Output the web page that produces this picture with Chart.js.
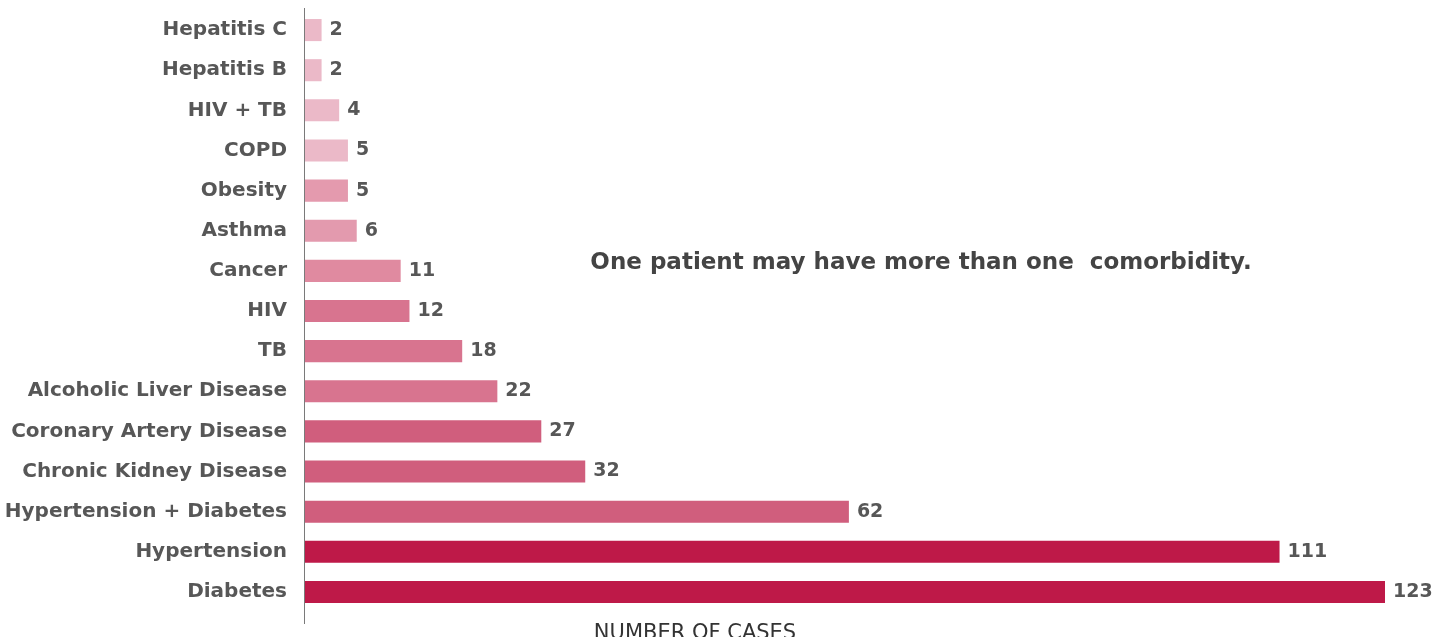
<!DOCTYPE html>
<html>
<head>
<meta charset="utf-8">
<style>
  * { margin: 0; padding: 0; box-sizing: border-box; }
  body { background: #ffffff; width: 1445px; height: 637px; overflow: hidden; }
  #chart { display: block; }
</style>
</head>
<body>
<canvas id="chart" width="1445" height="637"></canvas>
<script src="https://cdn.jsdelivr.net/npm/chart.js/dist/chart.umd.min.js"></script>
<script>
// data
const categories = [
  'Hepatitis C', 'Hepatitis B', 'HIV + TB', 'COPD', 'Obesity', 'Asthma',
  'Cancer', 'HIV', 'TB', 'Alcoholic Liver Disease', 'Coronary Artery Disease',
  'Chronic Kidney Disease', 'Hypertension + Diabetes', 'Hypertension', 'Diabetes'
];
const cases = [2, 2, 4, 5, 5, 6, 11, 12, 18, 22, 27, 32, 62, 111, 123];
const axisTitle = 'NUMBER OF CASES';
const note = 'One patient may have more than one  comorbidity.';

// colours, lightest at the top
const barColors = [
  '#ebb9c8', '#ebb9c8', '#ebb9c8', '#ebb9c8', '#e49aae', '#e39aae',
  '#e08aa0', '#d8748f', '#d8748f', '#d8748f', '#d05e7d',
  '#d05e7d', '#d05e7d', '#be1948', '#be1948'
];

const FONT = "'DejaVu Sans', sans-serif";
const TEXT = '#575757';

// value labels, axis line, axis title and note
const extras = {
  id: 'extras',
  afterDatasetsDraw(chart) {
    const ctx = chart.ctx;
    const meta = chart.getDatasetMeta(0);
    ctx.save();
    ctx.font = 'bold 19px ' + FONT;
    ctx.fillStyle = TEXT;
    ctx.textAlign = 'left';
    ctx.textBaseline = 'middle';
    meta.data.forEach((bar, i) => {
      ctx.fillText(String(cases[i]), bar.x + 8, bar.y);
    });
    ctx.restore();
  },
  afterDraw(chart) {
    const ctx = chart.ctx;
    const a = chart.chartArea;
    ctx.save();
    ctx.strokeStyle = '#7a7a7a';
    ctx.lineWidth = 1;
    ctx.beginPath();
    ctx.moveTo(a.left + 0.5, a.top - 2);
    ctx.lineTo(a.left + 0.5, a.bottom + 12);
    ctx.stroke();

    ctx.fillStyle = '#333333';
    ctx.font = '21px ' + FONT;
    ctx.textAlign = 'center';
    ctx.textBaseline = 'alphabetic';
    ctx.fillText(axisTitle, 695, 639);

    ctx.fillStyle = '#444444';
    ctx.font = 'bold 23px ' + FONT;
    ctx.textBaseline = 'middle';
    ctx.fillText(note, 921, 263);
    ctx.restore();
  }
};

new Chart(document.getElementById('chart'), {
  type: 'bar',
  data: {
    labels: categories,
    datasets: [{
      data: cases,
      backgroundColor: barColors,
      borderWidth: 0,
      categoryPercentage: 0.55,
      barPercentage: 1
    }]
  },
  options: {
    indexAxis: 'y',
    responsive: false,
    animation: false,
    devicePixelRatio: 1,
    layout: { padding: { top: 10, bottom: 25, right: 60, left: 0 } },
    plugins: {
      legend: { display: false },
      tooltip: { enabled: false }
    },
    scales: {
      x: {
        display: false,
        min: 0,
        max: 123
      },
      y: {
        grid: { display: false, drawTicks: false },
        border: { display: false },
        afterFit: s => { s.width = 304; s.paddingTop = 0; s.paddingBottom = 0; },
        ticks: {
          padding: 17,
          color: TEXT,
          font: { family: FONT, size: 20, weight: 'bold' }
        }
      }
    }
  },
  plugins: [extras]
});
</script>
</body>
</html>
